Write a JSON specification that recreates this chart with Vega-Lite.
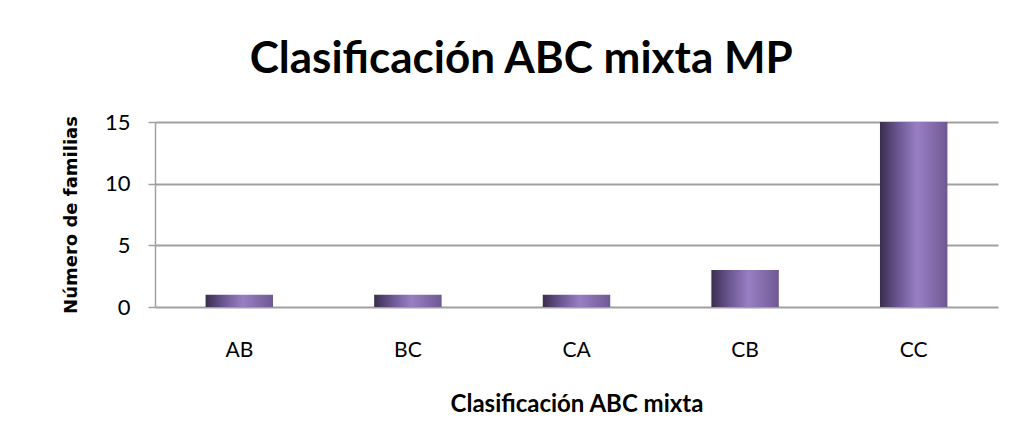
{
  "$schema": "https://vega.github.io/schema/vega-lite/v6.json",
  "autosize": "none",
  "width": 843,
  "height": 185,
  "padding": {"left": 155, "top": 122, "right": 28, "bottom": 140},
  "background": "white",
  "title": {
    "text": "Clasificación ABC mixta MP",
    "font": "Lato",
    "fontSize": 44,
    "fontWeight": "bold",
    "color": "#000000",
    "anchor": "middle",
    "frame": "bounds",
    "offset": 29,
    "dx": -9
  },
  "data": {
    "values": [
      {"clase": "AB", "familias": 1},
      {"clase": "BC", "familias": 1},
      {"clase": "CA", "familias": 1},
      {"clase": "CB", "familias": 3},
      {"clase": "CC", "familias": 15}
    ]
  },
  "mark": {
    "type": "bar",
    "color": {
      "gradient": "linear",
      "x1": 0, "x2": 1, "y1": 0, "y2": 0,
      "stops": [
        {"offset": 0, "color": "#3a2e4e"},
        {"offset": 0.25, "color": "#68548e"},
        {"offset": 0.55, "color": "#987fc4"},
        {"offset": 0.85, "color": "#7d66a3"},
        {"offset": 1, "color": "#6e5892"}
      ]
    }
  },
  "encoding": {
    "x": {
      "field": "clase",
      "type": "nominal",
      "sort": null,
      "scale": {"paddingInner": 0.6, "paddingOuter": 0.3},
      "axis": {
        "title": "Clasificación ABC mixta",
        "titleFont": "Lato",
        "titleFontSize": 24,
        "titleFontWeight": "bold",
        "titleColor": "#000000",
        "titlePadding": 32,
        "labelFont": "Lato",
        "labelFontSize": 21,
        "labelColor": "#000000",
        "labelAngle": 0,
        "labelPadding": 32,
        "ticks": false,
        "domain": false,
        "grid": false
      }
    },
    "y": {
      "field": "familias",
      "type": "quantitative",
      "scale": {"domain": [0, 15], "nice": false},
      "axis": {
        "title": "Número de familias",
        "titleFont": "DejaVu Sans",
        "titleFontSize": 18,
        "titleFontWeight": "bold",
        "titleColor": "#000000",
        "titlePadding": 24,
        "values": [0, 5, 10, 15],
        "labelFont": "Lato",
        "labelFontSize": 22,
        "labelColor": "#000000",
        "labelPadding": 18,
        "tickSize": 7,
        "tickColor": "#a0a0a0",
        "tickWidth": 1.5,
        "domainColor": "#a0a0a0",
        "domainWidth": 1.5,
        "gridColor": "#a0a0a0",
        "gridWidth": 2
      }
    }
  },
  "config": {
    "view": {"stroke": null}
  }
}
